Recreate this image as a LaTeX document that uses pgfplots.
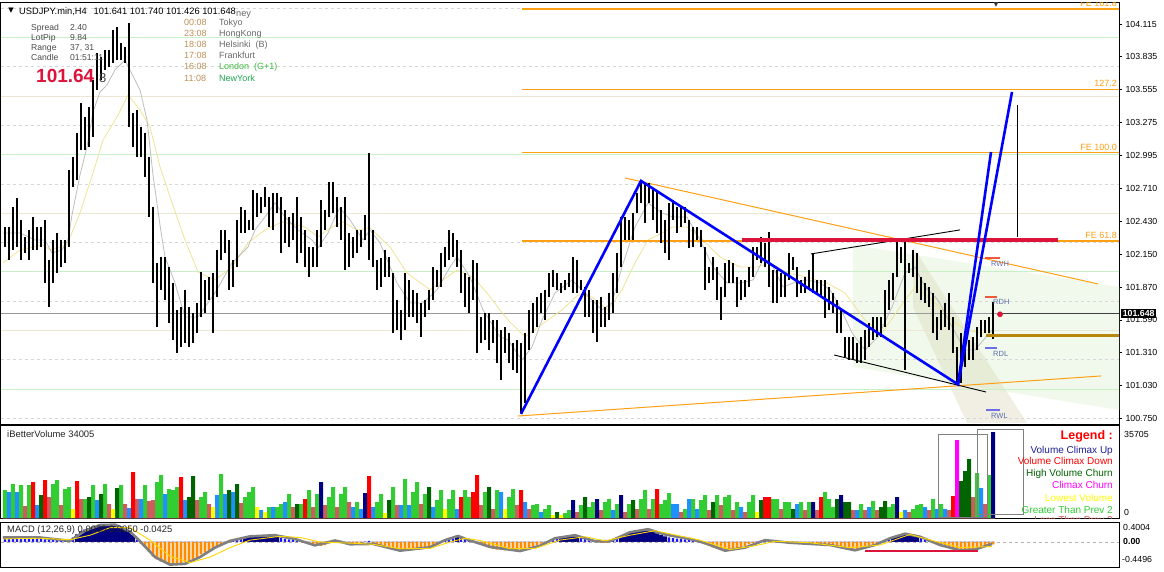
\documentclass[border=0pt]{standalone}
\usepackage{pgfplots}
\pgfplotsset{compat=1.18}
\usepackage{pgfplotstable}
\usepackage{fontspec}
\setmainfont{Liberation Sans}
\newfontfamily\symfont{DejaVu Sans}
\newcommand\fs[1]{\fontsize{#1}{#1}\selectfont}
\definecolor{cG}{RGB}{50,205,50}
\definecolor{cI}{RGB}{205,92,92}
\definecolor{cB}{RGB}{30,144,255}
\definecolor{cR}{RGB}{255,0,0}
\definecolor{cD}{RGB}{0,100,0}
\definecolor{cN}{RGB}{0,0,128}
\definecolor{cY}{RGB}{255,255,0}
\definecolor{cM}{RGB}{255,0,255}
\definecolor{feorange}{RGB}{255,160,20}
\definecolor{levgreen}{RGB}{200,240,200}
\definecolor{levbeige}{RGB}{236,230,212}
\definecolor{levgray}{RGB}{215,215,215}
\definecolor{maGray}{RGB}{190,190,190}
\definecolor{maKhaki}{RGB}{240,228,150}
\definecolor{crim}{RGB}{220,20,60}
\definecolor{tagblue}{RGB}{95,110,175}
\definecolor{timecol}{RGB}{190,145,90}
\definecolor{citycol}{RGB}{105,105,105}
\definecolor{infocol}{RGB}{75,75,75}
\definecolor{zonegreen}{RGB}{240,249,235}
\definecolor{bandtan}{RGB}{215,212,175}
\definecolor{gold}{RGB}{184,134,11}
\definecolor{hnavy}{RGB}{0,0,128}
\definecolor{hblue}{RGB}{20,20,255}
\definecolor{horange}{RGB}{255,140,0}
\definecolor{colRW}{RGB}{240,90,60}
\definecolor{colRL}{RGB}{110,110,230}
\definecolor{colLon}{RGB}{60,185,60}
\definecolor{colNY}{RGB}{30,165,80}
\definecolor{colVCU}{RGB}{30,30,150}
\definecolor{colSig}{RGB}{255,215,0}

\pgfplotstableread{
x lo hi v c m
5 102.212 102.383 11620 1 0.12
9 102.101 102.383 10790 3 0.12
13 102.187 102.553 14110 1 0.12
17 102.212 102.631 10790 3 0.12
21 102.101 102.443 13695 1 0.12
25 102.161 102.297 4980 2 0.12
29 102.101 102.357 13695 1 0.12
33 102.187 102.468 14940 4 0.12
37 102.187 102.383 5395 3 0.12
41 102.212 102.383 9545 5 0.11
45 101.905 102.443 15770 4 0.07
49 101.700 102.101 8715 2 0.06
53 101.905 102.272 14110 1 0.05
57 101.990 102.331 15770 1 0.05
61 102.041 102.272 5395 2 0.03
65 102.075 102.272 12035 1 0.02
69 102.212 102.869 12865 1 0.04
73 102.724 102.980 3735 7 0.12
77 102.784 103.185 15355 4 0.20
81 103.040 103.441 7885 2 0.28
85 103.040 103.321 7885 1 0.33
89 103.065 103.407 8715 5 0.37
93 103.151 103.637 13695 1 0.40
97 103.552 103.867 7470 3 0.43
101 103.637 103.833 9960 5 0.45
105 103.723 103.893 14110 1 0.46
109 103.748 103.893 5810 2 0.46
113 103.782 104.064 3735 7 0.45
117 103.808 104.089 12450 5 0.43
121 103.808 103.953 13695 1 0.41
125 103.782 103.919 5810 2 0.35
129 103.236 104.123 4150 3 0.30
133 103.065 103.355 19090 4 0.18
137 102.980 103.381 7885 2 0.06
141 102.980 103.236 7885 3 -0.05
145 102.809 103.185 13695 1 -0.12
149 102.468 102.980 7055 2 -0.25
153 101.905 102.553 7470 2 -0.38
157 101.529 102.075 14940 1 -0.46
161 101.845 102.127 17845 1 -0.52
165 101.760 102.127 9960 3 -0.56
169 101.563 102.041 12035 1 -0.58
173 101.419 101.905 11620 1 -0.58
177 101.307 101.675 12865 1 -0.58
181 101.359 101.700 17015 4 -0.57
185 101.393 101.845 7470 3 -0.54
189 101.359 101.700 8715 5 -0.50
193 101.393 101.649 17430 5 -0.45
197 101.478 101.734 7470 2 -0.40
201 101.615 101.999 8715 1 -0.33
205 101.649 101.931 10790 1 -0.28
209 101.760 101.956 5810 2 -0.22
213 101.478 101.990 4565 7 -0.17
217 101.785 102.187 9545 3 -0.12
221 102.101 102.357 18260 1 -0.07
225 102.161 102.357 9960 3 -0.02
229 101.845 102.272 11620 5 0.03
233 101.871 102.101 10790 3 0.06
237 102.041 102.443 14110 5 0.08
241 102.331 102.553 6225 2 0.10
245 102.331 102.528 8715 1 0.13
249 102.357 102.443 10790 1 0.15
253 102.357 102.699 12865 1 0.16
257 102.468 102.673 4565 7 0.17
261 102.502 102.639 3320 3 0.17
265 102.553 102.724 2490 7 0.17
269 102.383 102.639 4565 1 0.16
273 102.357 102.673 4565 3 0.15
277 102.502 102.673 4565 1 0.13
281 102.161 102.639 5810 1 0.11
285 102.246 102.528 6640 3 0.09
289 102.212 102.468 9960 1 0.07
293 102.272 102.502 4565 2 0.06
297 102.075 102.639 5810 5 0.04
301 102.161 102.468 5810 1 0.02
305 102.041 102.357 7885 4 0.00
309 101.956 102.212 11620 1 -0.04
313 102.041 102.212 4565 2 -0.07
317 102.041 102.357 9960 1 -0.09
321 102.212 102.613 14940 6 -0.10
325 102.357 102.528 5395 2 -0.08
329 102.468 102.767 8715 1 -0.04
333 102.502 102.767 12865 1 0.02
337 102.383 102.639 4565 2 0.04
341 102.272 102.553 9960 1 0.03
345 102.016 102.639 12865 1 -0.02
349 102.041 102.331 6640 2 -0.05
353 102.119 102.297 4565 3 -0.07
357 102.161 102.357 6640 1 -0.06
361 102.212 102.357 3735 3 -0.03
365 102.272 102.485 10375 6 0.01
369 102.101 103.014 17430 4 0.03
373 102.041 102.357 4565 3 -0.03
377 101.845 102.101 6640 1 -0.07
381 101.871 102.119 9960 1 -0.10
385 101.956 102.187 2075 7 -0.13
389 101.956 102.127 7470 5 -0.16
393 101.478 101.990 12865 1 -0.18
397 101.504 101.760 5395 2 -0.20
401 101.419 101.675 5395 3 -0.21
405 101.504 101.990 16185 1 -0.21
409 101.615 101.931 5395 3 -0.21
413 101.615 101.845 10790 1 -0.20
417 101.563 101.819 14940 1 -0.20
421 101.444 101.734 5810 2 -0.19
425 101.615 101.760 9960 1 -0.17
429 101.675 101.845 12865 5 -0.14
433 101.760 102.041 4565 3 -0.10
437 101.871 102.016 7470 1 -0.06
441 101.871 102.161 11620 1 -0.02
445 102.041 102.212 3735 7 0.03
449 102.101 102.357 7885 1 0.08
453 102.127 102.331 11620 1 0.12
457 102.041 102.272 3735 3 0.13
461 101.819 102.187 8715 4 0.11
465 101.700 101.990 11620 1 0.07
469 101.649 101.956 8715 1 0.03
473 101.760 102.101 10790 4 0.00
477 101.307 102.075 17845 4 -0.03
481 101.393 101.615 5395 2 -0.07
485 101.419 101.649 10790 1 -0.11
489 101.333 101.649 12865 5 -0.15
493 101.393 101.589 3735 2 -0.18
497 101.222 101.589 11620 1 -0.20
501 101.077 101.504 10790 3 -0.21
505 101.307 101.529 3735 7 -0.22
509 101.222 101.478 8715 1 -0.22
513 101.163 101.393 12035 1 -0.22
517 101.137 101.419 5395 2 -0.21
521 100.795 101.393 11620 4 -0.20
525 100.881 101.478 6640 3 -0.18
529 101.333 101.675 3735 2 -0.15
533 101.478 101.734 5395 1 -0.12
537 101.529 101.785 5810 1 -0.08
541 101.649 101.819 2490 3 -0.04
545 101.589 101.845 3735 1 0.00
549 101.785 101.990 5395 1 0.04
553 101.871 102.016 1245 7 0.08
557 101.845 101.990 2490 5 0.11
561 101.819 101.905 1245 7 0.13
565 101.845 101.931 2075 1 0.14
569 101.871 101.990 3320 1 0.15
573 101.819 102.127 7470 6 0.15
577 101.819 102.101 2490 2 0.14
581 101.845 101.931 5395 1 0.12
585 101.615 101.871 8715 5 0.10
589 101.615 101.845 4565 1 0.07
593 101.478 101.760 6640 1 0.03
597 101.402 101.760 7885 6 0.00
601 101.529 101.785 3320 2 -0.02
605 101.529 101.700 6640 1 -0.02
609 101.589 101.819 7885 1 0.00
613 101.649 101.990 3320 3 0.05
617 101.819 102.161 5810 1 0.10
621 102.041 102.468 9545 6 0.15
625 102.272 102.468 2490 2 0.20
629 102.272 102.443 5810 1 0.24
633 102.272 102.502 7470 5 0.27
637 102.502 102.673 3735 2 0.29
641 102.587 102.784 7885 1 0.31
645 102.417 102.758 11620 1 0.31
649 102.587 102.758 3735 2 0.30
653 102.443 102.699 7885 1 0.27
657 102.331 102.699 12035 4 0.23
661 102.246 102.528 5810 1 0.19
665 102.161 102.443 7470 1 0.15
669 102.101 102.587 10375 1 0.12
673 102.443 102.613 5810 3 0.10
677 102.331 102.553 5810 3 0.09
681 102.383 102.553 2490 2 0.08
685 102.417 102.553 3735 1 0.07
689 102.204 102.443 7885 3 0.06
693 102.212 102.383 7885 1 0.04
697 102.272 102.383 3735 3 0.02
701 102.212 102.357 7470 1 -0.02
705 101.845 102.212 9545 1 -0.06
709 101.905 102.041 3320 2 -0.10
713 101.931 102.127 6640 5 -0.14
717 101.760 102.041 9545 1 -0.17
721 101.589 101.871 5395 2 -0.19
725 101.785 102.075 8715 1 -0.20
729 101.905 102.101 9545 1 -0.20
733 101.905 102.075 3320 2 -0.19
737 101.700 101.956 6640 1 -0.17
741 101.760 101.931 4565 3 -0.14
745 101.785 101.931 2490 2 -0.10
749 101.871 102.041 6640 1 -0.06
753 101.956 102.212 9545 1 -0.02
757 102.101 102.212 2490 7 0.01
761 102.075 102.297 7470 5 0.03
765 102.041 102.246 8715 4 0.03
769 101.871 102.340 8715 4 0.02
773 101.734 102.016 7885 1 -0.01
777 101.734 102.016 7885 1 -0.02
781 101.785 101.990 3735 2 -0.02
785 101.785 101.990 6640 1 -0.02
789 101.931 102.161 6640 1 -0.01
793 102.016 102.127 3735 5 -0.01
797 101.785 102.041 5810 3 -0.02
801 101.819 101.931 6640 1 -0.02
805 101.819 101.956 3320 2 -0.02
809 101.845 102.016 6640 1 -0.03
813 101.819 102.161 6640 6 -0.03
817 101.819 101.931 3320 2 -0.03
821 101.785 101.931 8715 4 -0.04
825 101.607 101.931 10790 1 -0.05
829 101.675 101.871 7885 1 -0.07
833 101.649 101.819 4565 1 -0.10
837 101.478 101.760 7885 5 -0.13
841 101.478 101.675 9545 6 -0.16
845 101.273 101.444 6640 5 -0.18
849 101.248 101.444 6640 5 -0.20
853 101.248 101.444 3320 2 -0.20
857 101.222 101.393 3320 3 -0.19
861 101.222 101.444 5810 1 -0.17
865 101.248 101.504 3320 2 -0.14
869 101.359 101.563 4565 3 -0.10
873 101.419 101.615 7055 1 -0.07
877 101.444 101.615 3320 2 -0.04
881 101.444 101.615 4565 5 -0.01
885 101.529 101.845 7055 5 0.03
889 101.675 101.931 4565 1 0.08
893 101.760 101.990 5810 1 0.13
897 101.956 102.255 8715 6 0.17
901 102.075 102.212 2490 7 0.20
905 101.163 102.272 3320 3 0.21
909 101.990 102.075 2490 2 0.20
913 101.956 102.187 3735 1 0.18
917 101.819 102.161 5395 1 0.14
921 101.760 101.956 5810 1 0.10
925 101.734 101.905 4565 3 0.05
929 101.700 101.871 3320 2 0.01
933 101.478 101.819 7885 1 -0.03
937 101.419 101.615 3735 3 -0.06
941 101.504 101.675 5810 1 -0.09
945 101.529 101.734 3735 3 -0.12
949 101.504 101.819 3320 2 -0.15
953 101.307 101.615 9130 4 -0.17
957 101.051 101.359 32370 8 -0.19
961 101.051 101.478 15355 5 -0.20
965 101.188 101.393 19505 5 -0.20
969 101.248 101.419 24485 5 -0.20
973 101.248 101.444 8715 2 -0.19
977 101.333 101.529 18675 1 -0.17
981 101.444 101.589 12450 3 -0.15
985 101.478 101.589 5810 2 -0.12
989 101.478 101.615 17845 1 -0.09
993 101.426 101.740 35705 6 -0.06
}\bars

\begin{document}
\begin{tikzpicture}[font=\fs{9}]
\useasboundingbox (0,0) rectangle (1164pt,571pt);
\fill[white] (0,0) rectangle (1164pt,571pt);

% ================= MAIN PRICE PANEL =================
\begin{axis}[
  at={(1pt,147pt)}, anchor=south west, scale only axis,
  width=1118pt, height=421pt,
  xmin=1, xmax=1119, ymin=100.702, ymax=104.294,
  axis line style={black, line width=1pt},
  xtick=\empty,
  ytick={100.750,101.030,101.310,101.590,101.870,102.150,102.430,102.710,102.995,103.275,103.555,103.835,104.115},
  yticklabels={100.750,101.030,101.310,101.590,101.870,102.150,102.430,102.710,102.995,103.275,103.555,103.835,104.115},
  ytick pos=right, yticklabel pos=right, tick align=outside,
  major tick length=3pt, tick style={black, line width=0.6pt},
  yticklabel style={font=\fs{8.8}, black},
  clip=true]

% shaded zones
\addplot[fill=zonegreen, draw=none] coordinates {(853,102.230) (1119,101.871) (1119,100.822) (853,101.189)} --cycle;
\addplot[fill=bandtan, fill opacity=0.35, draw=none] coordinates {(913,102.212) (1027,100.711) (967,100.711) (913,101.700)} --cycle;

% level lines
\foreach \lv in {104,103,102,101} {\addplot[levgreen, line width=1pt] coordinates {(1,\lv) (1119,\lv)};}
\foreach \lv in {103.5,102.5,101.5} {\addplot[levbeige, line width=1pt] coordinates {(1,\lv) (1119,\lv)};}
\foreach \lv in {104.25,103.75,103.25,102.75,102.25,101.75,101.25,100.75} {\addplot[levgray, dashed, line width=0.8pt] coordinates {(1,\lv) (1119,\lv)};}

% current price line
\addplot[gray!80, line width=0.8pt] coordinates {(1,101.648) (1000,101.648)};
\addplot[black!75, line width=0.8pt] coordinates {(1000,101.648) (1119,101.648)};

% moving averages
\addplot[maKhaki, line width=0.8pt] coordinates {(3,102.076) (20,102.187) (43,102.230) (50,102.187) (67,102.230) (80,102.503) (93,102.844) (103,103.125) (117,103.322) (128,103.509) (140,103.381) (150,103.236) (160,102.895) (170,102.639) (185,102.272) (198,101.999) (215,101.931) (232,102.042) (248,102.247) (265,102.358) (282,102.426) (305,102.383) (318,102.298) (332,102.383) (343,102.426) (357,102.358) (370,102.375) (390,102.212) (407,101.991) (430,101.846) (443,101.931) (457,102.016) (473,101.956) (487,101.820) (500,101.675) (508,101.590) (525,101.445) (538,101.530) (562,101.675) (578,101.803) (592,101.786) (608,101.675) (622,101.846) (635,102.076) (648,102.272) (662,102.332) (673,102.383) (687,102.383) (703,102.272) (720,102.127) (740,102.042) (757,102.042) (770,102.076) (787,101.991) (807,101.956) (827,101.905) (845,101.820) (865,101.590) (882,101.479) (898,101.675) (915,101.871) (932,101.760) (948,101.615) (965,101.504) (982,101.479) (992,101.479)};
\addplot[maGray, line width=0.8pt] coordinates {(3,102.332) (20,102.332) (35,102.272) (45,102.272) (52,102.161) (62,102.187) (68,102.272) (72,102.486) (80,102.827) (87,103.066) (93,103.364) (100,103.535) (107,103.595) (115,103.723) (125,103.808) (135,103.637) (140,103.552) (147,103.296) (153,102.827) (160,102.400) (165,102.127) (175,101.905) (185,101.615) (198,101.615) (215,101.820) (232,102.076) (248,102.212) (255,102.358) (268,102.503) (275,102.588) (285,102.468) (298,102.358) (312,102.272) (318,102.204) (328,102.332) (335,102.468) (340,102.545) (350,102.443) (363,102.272) (370,102.358) (380,102.247) (397,101.905) (410,101.735) (423,101.735) (437,101.846) (450,102.042) (457,102.127) (470,101.956) (483,101.675) (500,101.445) (508,101.419) (522,101.248) (532,101.359) (542,101.590) (555,101.820) (572,101.931) (585,101.820) (602,101.675) (612,101.735) (622,102.042) (635,102.383) (648,102.588) (662,102.503) (673,102.468) (687,102.468) (700,102.272) (713,102.042) (727,101.905) (740,101.905) (753,101.931) (763,102.102) (773,102.042) (783,101.871) (793,101.905) (807,101.931) (820,101.905) (830,101.846) (838,101.735) (852,101.479) (865,101.334) (878,101.445) (892,101.701) (905,101.991) (915,102.042) (925,101.871) (938,101.760) (952,101.530) (965,101.334) (975,101.334) (992,101.504)};

% FE levels and trend lines
\foreach \lv in {104.243,103.558,103.020,102.264} {\addplot[feorange, line width=1.2pt] coordinates {(522,\lv) (1119,\lv)};}
\addplot[feorange, line width=1pt] coordinates {(625,102.801) (1098,101.897)};
\addplot[feorange, line width=1pt] coordinates {(518,100.770) (1101,101.112)};

% price bars (high-low ranges)
\addplot[draw=none, mark=none,
  error bars/.cd, y dir=both, y explicit, error mark=none,
  error bar style={draw=black, line width=1.5pt}]
  table[x=x, y expr={(\thisrow{lo}+\thisrow{hi})/2}, y error expr={(\thisrow{hi}-\thisrow{lo})/2}] {\bars};

% black lines
\addplot[black, line width=0.9pt] coordinates {(811,102.153) (960,102.358)};
\addplot[black, line width=0.9pt] coordinates {(834,101.291) (986,100.975)};
\addplot[black, line width=1pt] coordinates {(1017,103.424) (1017,102.298)};
% red level
\addplot[crim, line width=3.2pt] coordinates {(742,102.272) (1058,102.272)};
% blue zigzag
\addplot[blue, line width=2.6pt] coordinates {(521,100.788) (641,102.776) (958,101.040) (1012,103.535)};
\addplot[blue, line width=2.6pt] coordinates {(958,101.040) (991,103.023)};
% gold line and markers
\addplot[gold, line width=3pt] coordinates {(986,101.453) (1119,101.453)};
\addplot[colRW, line width=1.4pt] coordinates {(985,102.119) (1000,102.119)};
\addplot[colRW, line width=1.2pt] coordinates {(985,101.786) (997,101.786)};
\addplot[colRL, line width=1.2pt] coordinates {(985,101.351) (997,101.351)};
\addplot[colRL, line width=1.4pt] coordinates {(986,100.822) (1000,100.822)};
\addplot[only marks, mark=*, mark size=2.6pt, crim] coordinates {(1000,101.638)};

% texts
\node[anchor=base west, inner sep=0pt, text=tagblue, font=\fs{7.5}] at (axis cs:991,102.050) {RWH};
\node[anchor=base west, inner sep=0pt, text=tagblue, font=\fs{7.5}] at (axis cs:993,101.718) {RDH};
\node[anchor=base west, inner sep=0pt, text=tagblue, font=\fs{7.5}] at (axis cs:993,101.282) {RDL};
\node[anchor=base west, inner sep=0pt, text=tagblue, font=\fs{7.5}] at (axis cs:991,100.753) {RWL};
\node[anchor=base east, inner sep=0pt, text=feorange, font=\fs{9}] at (axis cs:1117,104.264) {FE 161.8};
\node[anchor=base east, inner sep=0pt, text=feorange, font=\fs{9}] at (axis cs:1117,103.578) {127.2};
\node[anchor=base east, inner sep=0pt, text=feorange, font=\fs{9}] at (axis cs:1117,103.036) {FE 100.0};
\node[anchor=base east, inner sep=0pt, text=feorange, font=\fs{9}] at (axis cs:1117,102.281) {FE 61.8};
\node[anchor=center, inner sep=0pt, font=\symfont\fs{7}, text=black!80] at (axis cs:996,104.282) {▼};

\node[anchor=center, inner sep=0pt, font=\symfont\fs{7}] at (axis cs:11,104.226) {▼};
\node[anchor=base west, inner sep=0pt, font=\fs{9.3}] at (axis cs:19,104.196) {USDJPY.min,H4\hspace{7pt}101.641 101.740 101.426 101.648};
\node[anchor=base west, inner sep=0pt, font=\fs{9.2}, text=citycol] at (axis cs:236,104.183) {ney};

\node[anchor=base west, inner sep=0pt, font=\fs{8.6}, text=infocol] at (axis cs:31,104.057) {Spread};
\node[anchor=base west, inner sep=0pt, font=\fs{8.6}, text=infocol] at (axis cs:31,103.972) {LotPip};
\node[anchor=base west, inner sep=0pt, font=\fs{8.6}, text=infocol] at (axis cs:31,103.887) {Range};
\node[anchor=base west, inner sep=0pt, font=\fs{8.6}, text=infocol] at (axis cs:31,103.801) {Candle};
\node[anchor=base west, inner sep=0pt, font=\fs{8.6}, text=infocol] at (axis cs:70,104.057) {2.40};
\node[anchor=base west, inner sep=0pt, font=\fs{8.6}, text=infocol] at (axis cs:70,103.972) {9.84};
\node[anchor=base west, inner sep=0pt, font=\fs{8.6}, text=infocol] at (axis cs:70,103.887) {37, 31};
\node[anchor=base west, inner sep=0pt, font=\fs{8.6}, text=infocol] at (axis cs:70,103.801) {01:51:11};
\node[anchor=base west, inner sep=0pt, font=\fs{19}\bfseries, text=crim] at (axis cs:36,103.612) {101.64};
\node[anchor=base west, inner sep=0pt, font=\fs{13}, text=black!75] at (axis cs:99,103.612) {8};

\node[anchor=base west, inner sep=0pt, font=\fs{9}, text=timecol] at (axis cs:184,104.098) {00:08};
\node[anchor=base west, inner sep=0pt, font=\fs{9}, text=timecol] at (axis cs:184,104.004) {23:08};
\node[anchor=base west, inner sep=0pt, font=\fs{9}, text=timecol] at (axis cs:184,103.914) {18:08};
\node[anchor=base west, inner sep=0pt, font=\fs{9}, text=timecol] at (axis cs:184,103.820) {17:08};
\node[anchor=base west, inner sep=0pt, font=\fs{9}, text=timecol] at (axis cs:184,103.723) {16:08};
\node[anchor=base west, inner sep=0pt, font=\fs{9}, text=timecol] at (axis cs:184,103.626) {11:08};
\node[anchor=base west, inner sep=0pt, font=\fs{9}, text=citycol] at (axis cs:219,104.098) {Tokyo};
\node[anchor=base west, inner sep=0pt, font=\fs{9}, text=citycol] at (axis cs:219,104.004) {HongKong};
\node[anchor=base west, inner sep=0pt, font=\fs{9}, text=citycol] at (axis cs:219,103.914) {Helsinki\ \ (B)};
\node[anchor=base west, inner sep=0pt, font=\fs{9}, text=citycol] at (axis cs:219,103.820) {Frankfurt};
\node[anchor=base west, inner sep=0pt, font=\fs{9}, text=colLon] at (axis cs:219,103.723) {London\ \ (G+1)};
\node[anchor=base west, inner sep=0pt, font=\fs{9}, text=colNY] at (axis cs:219,103.626) {NewYork};
\coordinate (cp) at (axis cs:1119,101.648);
\end{axis}
\node[fill=black, text=white, anchor=west, inner xsep=1.6pt, inner ysep=1.3pt, font=\fs{8.8}\bfseries] at ([xshift=2pt]cp) {101.648};

% ================= VOLUME PANEL =================
\begin{axis}[
  at={(1pt,53pt)}, anchor=south west, scale only axis,
  width=1118pt, height=92pt,
  xmin=1, xmax=1119, ymin=0, ymax=38200,
  axis line style={black, line width=1pt},
  xtick=\empty, ytick=\empty, clip=true]
\addplot[ybar, bar width=4pt, bar shift=0pt, fill=cG, draw=none] table[x=x, y expr={(\thisrow{c}==1)*\thisrow{v}}] {\bars};
\addplot[ybar, bar width=4pt, bar shift=0pt, fill=cI, draw=none] table[x=x, y expr={(\thisrow{c}==2)*\thisrow{v}}] {\bars};
\addplot[ybar, bar width=4pt, bar shift=0pt, fill=cB, draw=none] table[x=x, y expr={(\thisrow{c}==3)*\thisrow{v}}] {\bars};
\addplot[ybar, bar width=4pt, bar shift=0pt, fill=cR, draw=none] table[x=x, y expr={(\thisrow{c}==4)*\thisrow{v}}] {\bars};
\addplot[ybar, bar width=4pt, bar shift=0pt, fill=cD, draw=none] table[x=x, y expr={(\thisrow{c}==5)*\thisrow{v}}] {\bars};
\addplot[ybar, bar width=4pt, bar shift=0pt, fill=cN, draw=none] table[x=x, y expr={(\thisrow{c}==6)*\thisrow{v}}] {\bars};
\addplot[ybar, bar width=4pt, bar shift=0pt, fill=cY, draw=none] table[x=x, y expr={(\thisrow{c}==7)*\thisrow{v}}] {\bars};
\addplot[ybar, bar width=4pt, bar shift=0pt, fill=cM, draw=none] table[x=x, y expr={(\thisrow{c}==8)*\thisrow{v}}] {\bars};
\draw[gray, line width=1pt] (axis cs:938,415) rectangle (axis cs:987,34877);
\draw[gray, line width=1pt] (axis cs:977,1661) rectangle (axis cs:1023,36953);
\node[anchor=base west, inner sep=0pt, font=\fs{9.4}, text=black!85] at (axis cs:7,33631) {iBetterVolume 34005};
\node[anchor=base east, inner sep=0pt, font=\fs{12.5}\bfseries, text=red] at (axis cs:1113,32800) {Legend :};
\node[anchor=base east, inner sep=0pt, font=\fs{10}, text=colVCU] at (axis cs:1113,26988) {Volume Climax Up};
\node[anchor=base east, inner sep=0pt, font=\fs{10}, text=red] at (axis cs:1113,22170) {Volume Climax Down};
\node[anchor=base east, inner sep=0pt, font=\fs{10}, text=cD] at (axis cs:1113,17310) {High Volume Churn};
\node[anchor=base east, inner sep=0pt, font=\fs{10}, text=cM] at (axis cs:1113,12200) {Climax Churn};
\node[anchor=base east, inner sep=0pt, font=\fs{10}, text=cY] at (axis cs:1113,7058) {Lowest Volume};
\node[anchor=base east, inner sep=0pt, font=\fs{10}, text=cG] at (axis cs:1113,2076) {Greater Than Prev 2};
\node[anchor=base east, inner sep=0pt, font=\fs{10}, text=cI] at (axis cs:1113,-2300) {Less Than Prev 2};
\end{axis}
\node[anchor=west, inner sep=0pt, font=\fs{8.8}] at (1124pt,137pt) {35705};
\node[anchor=west, inner sep=0pt, font=\fs{8.8}] at (1124pt,59pt) {0};

% ================= MACD PANEL =================
\begin{axis}[
  at={(1pt,4pt)}, anchor=south west, scale only axis,
  width=1118pt, height=45pt,
  xmin=1, xmax=1119, ymin=-0.664, ymax=0.531,
  axis line style={black, line width=1pt},
  xtick=\empty, ytick=\empty, clip=true]
\addplot[gray!60, dashed, line width=0.8pt] coordinates {(1,0) (1119,0)};
\addplot[ybar, bar width=4pt, bar shift=0pt, fill=hnavy, draw=none] table[x=x, y expr={(\thisrow{m}>0.12)*\thisrow{m}}] {\bars};
\addplot[ybar, bar width=2.4pt, bar shift=0pt, fill=hblue, draw=none] table[x=x, y expr={(\thisrow{m}>0)*(\thisrow{m}<=0.12)*\thisrow{m}}] {\bars};
\addplot[ybar, bar width=2.8pt, bar shift=0pt, fill=horange, draw=none] table[x=x, y expr={(\thisrow{m}<0)*\thisrow{m}}] {\bars};
\addplot[gray, line width=2.6pt] coordinates {(3,0.12) (40,0.12) (60,0.06) (70,0.03) (85,0.30) (100,0.45) (115,0.46) (130,0.28) (140,0.02) (155,-0.40) (170,-0.60) (185,-0.58) (200,-0.40) (215,-0.15) (230,0.03) (250,0.15) (275,0.18) (295,0.08) (315,-0.09) (335,0.04) (350,-0.06) (373,-0.05) (400,-0.23) (430,-0.14) (445,0.05) (458,0.16) (470,0.04) (490,-0.13) (520,-0.24) (540,-0.10) (555,0.10) (575,0.18) (595,0.02) (610,0.02) (630,0.26) (648,0.34) (665,0.20) (690,0.08) (705,-0.03) (725,-0.23) (745,-0.15) (765,0.05) (790,-0.02) (830,-0.08) (855,-0.22) (875,-0.08) (890,0.10) (905,0.22) (920,0.14) (940,-0.08) (960,-0.22) (975,-0.20) (992,-0.05)};
\addplot[colSig, line width=0.9pt] coordinates {(3,0.08) (40,0.10) (70,0.06) (90,0.18) (110,0.38) (130,0.38) (150,0.05) (170,-0.38) (190,-0.55) (210,-0.40) (230,-0.15) (250,0.05) (280,0.15) (300,0.12) (320,0.0) (350,-0.03) (373,-0.06) (400,-0.18) (430,-0.17) (450,0.0) (465,0.10) (480,0.04) (510,-0.18) (535,-0.17) (560,0.05) (585,0.14) (605,0.03) (630,0.18) (655,0.30) (680,0.16) (700,0.05) (730,-0.20) (755,-0.10) (775,0.02) (810,-0.02) (850,-0.15) (880,-0.08) (910,0.20) (935,0.02) (960,-0.15) (992,-0.12)};
\addplot[crim, line width=1.6pt] coordinates {(865,-0.239) (978,-0.239)};
\node[anchor=base west, inner sep=0pt, font=\fs{9.4}, text=black!85] at (axis cs:7,0.255) {MACD (12,26,9) 0.0030 0.0050 -0.0425};
\end{axis}
\node[anchor=west, inner sep=0pt, font=\fs{8.8}] at (1123pt,44pt) {0.4004};
\node[anchor=west, inner sep=0pt, font=\fs{8.8}\bfseries] at (1123pt,29.5pt) {0.00};
\node[anchor=west, inner sep=0pt, font=\fs{8.8}] at (1122pt,12pt) {-0.4496};
\end{tikzpicture}
\end{document}
